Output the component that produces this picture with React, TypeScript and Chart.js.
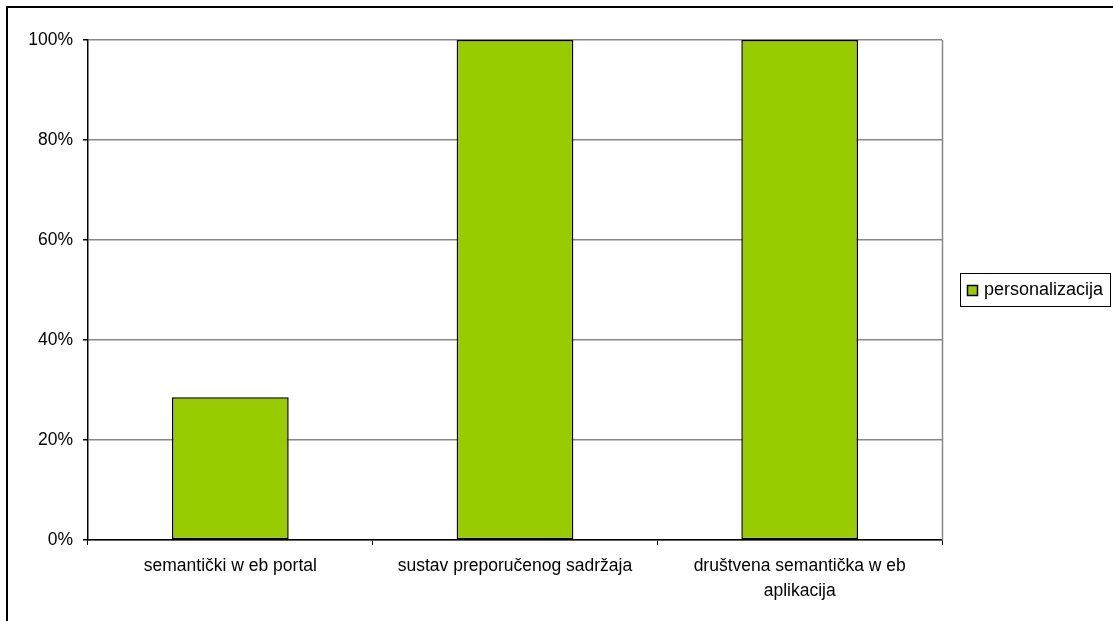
import React, { useEffect, useRef } from "react";
import { Chart, registerables } from "chart.js";

Chart.register(...registerables);

const categories: (string | string[])[] = [
  "semantički w eb portal",
  "sustav preporučenog sadržaja",
  ["društvena semantička w eb", "aplikacija"],
];
const seriesLabel = "personalizacija";
const seriesValues = [28.57, 100, 100];
const yTicks = [0, 20, 40, 60, 80, 100];

const GREEN = "#99CC00";
const FONT = "'Liberation Sans', Arial, sans-serif";

const legendPlugin = {
  id: "customLegend",
  afterDraw(chart: any) {
    const ctx = chart.ctx;
    const area = chart.chartArea;
    ctx.save();
    // grey right border of plot area
    ctx.strokeStyle = "#878787";
    ctx.lineWidth = 1.5;
    ctx.beginPath();
    ctx.moveTo(Math.round(area.right) + 0.5, area.top);
    ctx.lineTo(Math.round(area.right) + 0.5, area.bottom);
    ctx.stroke();
    // legend box
    const ds = chart.data.datasets[0];
    const bx = 960.5, by = 273.5, bw = 150, bh = 33;
    ctx.lineWidth = 1;
    ctx.fillStyle = "#ffffff";
    ctx.fillRect(bx, by, bw, bh);
    ctx.strokeStyle = "#000000";
    ctx.strokeRect(bx, by, bw, bh);
    ctx.fillStyle = ds.backgroundColor;
    ctx.lineWidth = 1.5;
    ctx.fillRect(967.5, 285.5, 10, 10);
    ctx.strokeRect(967.5, 285.5, 10, 10);
    ctx.fillStyle = "#000000";
    ctx.font = `18px ${FONT}`;
    ctx.textBaseline = "middle";
    ctx.textAlign = "left";
    ctx.fillText(ds.label, 984, 290.5);
    ctx.restore();
  },
};

export default function App() {
  const ref = useRef<HTMLCanvasElement | null>(null);
  useEffect(() => {
    if (!ref.current) return;
    const chart = new Chart(ref.current, {
      type: "bar",
      data: {
        labels: categories as any,
        datasets: [
          {
            label: seriesLabel,
            data: seriesValues,
            backgroundColor: GREEN,
            borderColor: "#000000",
            borderWidth: 1.5,
            borderSkipped: false,
            barPercentage: 0.41,
            categoryPercentage: 1,
          },
        ],
      },
      options: {
        responsive: false,
        animation: false,
        events: [],
        layout: { padding: { top: 40, right: 171, bottom: 0, left: 0 } },
        plugins: { legend: { display: false }, tooltip: { enabled: false } },
        scales: {
          x: {
            afterFit: (s: any) => {
              s.height = 81;
            },
            grid: {
              offset: true,
              drawOnChartArea: false,
              tickLength: 5,
              tickColor: "#000000",
              color: "#000000",
            },
            border: { color: "#000000", width: 1.5 },
            ticks: {
              color: "#000000",
              font: { family: FONT, size: 17.5, lineHeight: 1.42 },
              padding: 9,
              maxRotation: 0,
              autoSkip: false,
            },
          },
          y: {
            min: 0,
            max: 100,
            afterFit: (s: any) => {
              s.width = 88;
            },
            afterBuildTicks: (s: any) => {
              s.ticks = yTicks.map((v) => ({ value: v }));
            },
            grid: {
              color: "#878787",
              tickColor: "#000000",
              tickLength: 5,
              lineWidth: 1.5,
            },
            border: { color: "#000000", width: 1.5 },
            ticks: {
              color: "#000000",
              font: { family: FONT, size: 17.5 },
              padding: 10,
              callback: (v: any) => `${v}%`,
            },
          },
        },
      },
      plugins: [legendPlugin],
    });
    return () => chart.destroy();
  }, []);

  return (
    <div
      style={{
        position: "fixed",
        left: 0,
        top: 0,
        width: 1113,
        height: 621,
        background: "#ffffff",
        overflow: "hidden",
      }}
    >
      <div
        style={{
          position: "absolute",
          left: 6,
          top: 6,
          width: 1200,
          height: 700,
          borderTop: "2px solid #000",
          borderLeft: "2px solid #000",
        }}
      />
      <canvas
        ref={ref}
        width={1113}
        height={621}
        style={{ position: "absolute", left: 0, top: 0 }}
      />
    </div>
  );
}
